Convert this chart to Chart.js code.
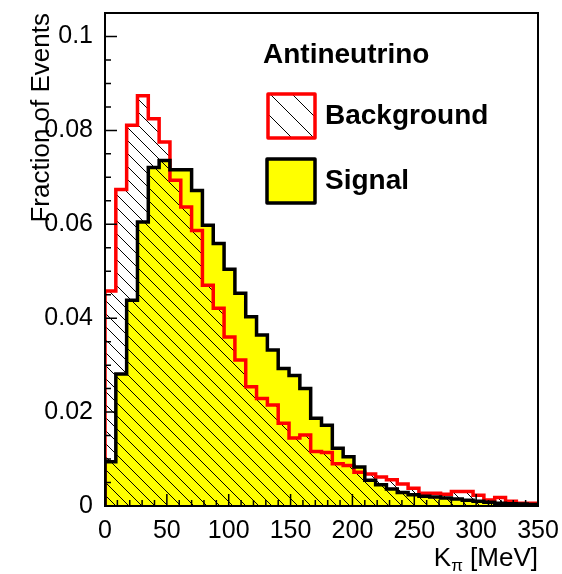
<!DOCTYPE html>
<html>
<head>
<meta charset="utf-8">
<script src="https://cdn.jsdelivr.net/npm/chart.js@4.4.1/dist/chart.umd.min.js"></script>
<style>
  html, body { margin: 0; padding: 0; background: #fff; }
</style>
</head>
<body>
<canvas id="chart" width="562" height="574"></canvas>
<script>
// K_pi histogram, 40 bins of 8.75 MeV between 0 and 350 MeV
const binEdges = [0, 8.75, 17.5, 26.25, 35, 43.75, 52.5, 61.25, 70, 78.75,
  87.5, 96.25, 105, 113.75, 122.5, 131.25, 140, 148.75, 157.5, 166.25,
  175, 183.75, 192.5, 201.25, 210, 218.75, 227.5, 236.25, 245, 253.75,
  262.5, 271.25, 280, 288.75, 297.5, 306.25, 315, 323.75, 332.5, 341.25, 350]

const background = [0.0458, 0.0674, 0.0811, 0.0874, 0.0825, 0.0775, 0.0694, 0.0637, 0.0587, 0.0470,
  0.0421, 0.0360, 0.0311, 0.0254, 0.0229, 0.0215, 0.0176, 0.0145, 0.0151, 0.0116,
  0.0114, 0.0090, 0.0086, 0.0072, 0.0068, 0.0062, 0.0056, 0.0047, 0.0038, 0.0027,
  0.0027, 0.0025, 0.0031, 0.0031, 0.0023, 0.0013, 0.0018, 0.0010, 0.0006, 0.0006]

const signal = [0.0094, 0.0281, 0.0438, 0.0605, 0.0721, 0.0736, 0.0716, 0.0716, 0.0672, 0.0598,
  0.0559, 0.0504, 0.0453, 0.0403, 0.0364, 0.0332, 0.0293, 0.0278, 0.0250, 0.0187,
  0.0172, 0.0123, 0.0105, 0.0083, 0.0055, 0.0045, 0.0036, 0.0029, 0.0024, 0.0021,
  0.0019, 0.0017, 0.0015, 0.0012, 0.0010, 0.0008, 0.0006, 0.0005, 0.0004, 0.0003]

const xTicks = [0, 50, 100, 150, 200, 250, 300, 350]
const yTicks = [0, 0.02, 0.04, 0.06, 0.08, 0.1]
const yTickLabels = ['0', '0.02', '0.04', '0.06', '0.08', '0.1']

const family = '"Liberation Sans", Arial, Helvetica, sans-serif'
const yellow = '#ffff00'
const red = '#ff0000'

function histPoints(edges, values) {
  const pts = [{x: edges[0], y: 0}]
  values.forEach((v, i) => {
    pts.push({x: edges[i], y: v})
    pts.push({x: edges[i + 1], y: v})
  })
  pts.push({x: edges[edges.length - 1], y: 0})
  return pts
}

function hatchPattern(size) {
  const c = document.createElement('canvas')
  c.width = size
  c.height = size
  const g = c.getContext('2d')
  g.strokeStyle = '#000'
  g.lineWidth = 1
  g.beginPath()
  for (const k of [-size, 0, size]) {
    g.moveTo(k, 0)
    g.lineTo(k + size, size)
  }
  g.stroke()
  return g.createPattern(c, 'repeat')
}

function isMajor(list, v) {
  return list.findIndex(t => Math.abs(t - v) < 1e-9)
}

const frameAndTicks = {
  id: 'frameAndTicks',
  afterDatasetsDraw(chart) {
    const {ctx, chartArea: a, scales: {x, y}} = chart
    ctx.save()
    ctx.strokeStyle = '#000'
    ctx.lineWidth = 1.5
    ctx.beginPath()
    x.ticks.forEach(t => {
      const px = x.getPixelForValue(t.value)
      const len = isMajor(xTicks, t.value) >= 0 ? 12 : 6
      ctx.moveTo(px, a.bottom)
      ctx.lineTo(px, a.bottom - len)
    })
    y.ticks.forEach(t => {
      if (t.value > 0.1001) return
      const py = y.getPixelForValue(t.value)
      const len = isMajor(yTicks, t.value) >= 0 ? 12 : 6
      ctx.moveTo(a.left, py)
      ctx.lineTo(a.left + len, py)
    })
    ctx.stroke()
    ctx.lineWidth = 2
    ctx.strokeRect(a.left, a.top, a.right - a.left, a.bottom - a.top)
    ctx.restore()
  }
}

const legendAndTitle = {
  id: 'legendAndTitle',
  afterDraw(chart) {
    const {ctx, chartArea: a} = chart
    ctx.save()
    ctx.fillStyle = '#000'
    ctx.textBaseline = 'alphabetic'

    // x axis title with subscript pi, right aligned to the frame
    const big = '26px ' + family
    const small = '17px ' + family
    ctx.font = big
    const wK = ctx.measureText('K').width
    const wTail = ctx.measureText(' [MeV]').width
    ctx.font = small
    const wPi = ctx.measureText('\u03c0').width
    let tx = a.right - wK - wPi - wTail
    const base = 566
    ctx.font = big
    ctx.fillText('K', tx, base)
    ctx.font = small
    ctx.fillText('\u03c0', tx + wK, base + 5)
    ctx.font = big
    ctx.fillText(' [MeV]', tx + wK + wPi, base)

    // legend
    ctx.font = 'bold 28px ' + family
    ctx.fillText('Antineutrino', 263, 63)

    ctx.fillStyle = '#fff'
    ctx.fillRect(268, 94, 47, 44)
    ctx.fillStyle = hatchPattern(22)
    ctx.fillRect(268, 94, 47, 44)
    ctx.strokeStyle = red
    ctx.lineWidth = 3.5
    ctx.lineJoin = 'round'
    ctx.strokeRect(268, 94, 47, 44)

    ctx.fillStyle = yellow
    ctx.fillRect(267, 159, 48, 44)
    ctx.strokeStyle = '#000'
    ctx.strokeRect(267, 159, 48, 44)

    ctx.fillStyle = '#000'
    ctx.fillText('Background', 325, 124)
    ctx.fillText('Signal', 325, 189)
    ctx.restore()
  }
}

const ctx = document.getElementById('chart')

new Chart(ctx, {
  type: 'line',
  data: {
    datasets: [
      {
        label: 'Signal outline',
        data: histPoints(binEdges, signal),
        borderColor: '#000',
        borderWidth: 3.5,
        fill: false,
        order: 0
      },
      {
        label: 'Background',
        data: histPoints(binEdges, background),
        borderColor: red,
        borderWidth: 3.5,
        backgroundColor: hatchPattern(13),
        fill: 'origin',
        order: 1
      },
      {
        label: 'Signal',
        data: histPoints(binEdges, signal),
        borderWidth: 0,
        borderColor: 'rgba(0,0,0,0)',
        backgroundColor: yellow,
        fill: 'origin',
        order: 2
      }
    ]
  },
  options: {
    responsive: false,
    animation: false,
    events: [],
    elements: {
      point: {radius: 0},
      line: {tension: 0, borderJoinStyle: 'miter', borderCapStyle: 'butt'}
    },
    layout: {padding: {left: 0, top: 13, right: 24, bottom: 0}},
    scales: {
      x: {
        type: 'linear',
        min: 0,
        max: 350,
        grid: {display: false},
        border: {display: false},
        ticks: {
          stepSize: 10,
          autoSkip: false,
          maxRotation: 0,
          padding: 2,
          color: '#000',
          font: {family: family, size: 25},
          callback: v => isMajor(xTicks, v) >= 0 ? String(v) : ''
        },
        afterFit: s => {
          s.height = 68
          s.paddingLeft = 0
          s.paddingRight = 0
        }
      },
      y: {
        type: 'linear',
        min: 0,
        max: 0.105,
        grid: {display: false},
        border: {display: false},
        ticks: {
          stepSize: 0.005,
          autoSkip: false,
          padding: 4,
          color: '#000',
          font: {family: family, size: 25},
          callback: v => {
            const i = isMajor(yTicks, v)
            return i >= 0 ? yTickLabels[i] : ''
          }
        },
        title: {
          display: true,
          text: 'Fraction of Events',
          align: 'end',
          color: '#000',
          font: {family: family, size: 26},
          padding: {top: 26, bottom: 0}
        },
        afterFit: s => {
          s.width = 105
          s.paddingTop = 0
          s.paddingBottom = 0
        }
      }
    },
    plugins: {
      legend: {display: false},
      tooltip: {enabled: false}
    }
  },
  plugins: [frameAndTicks, legendAndTitle]
})
</script>
</body>
</html>
